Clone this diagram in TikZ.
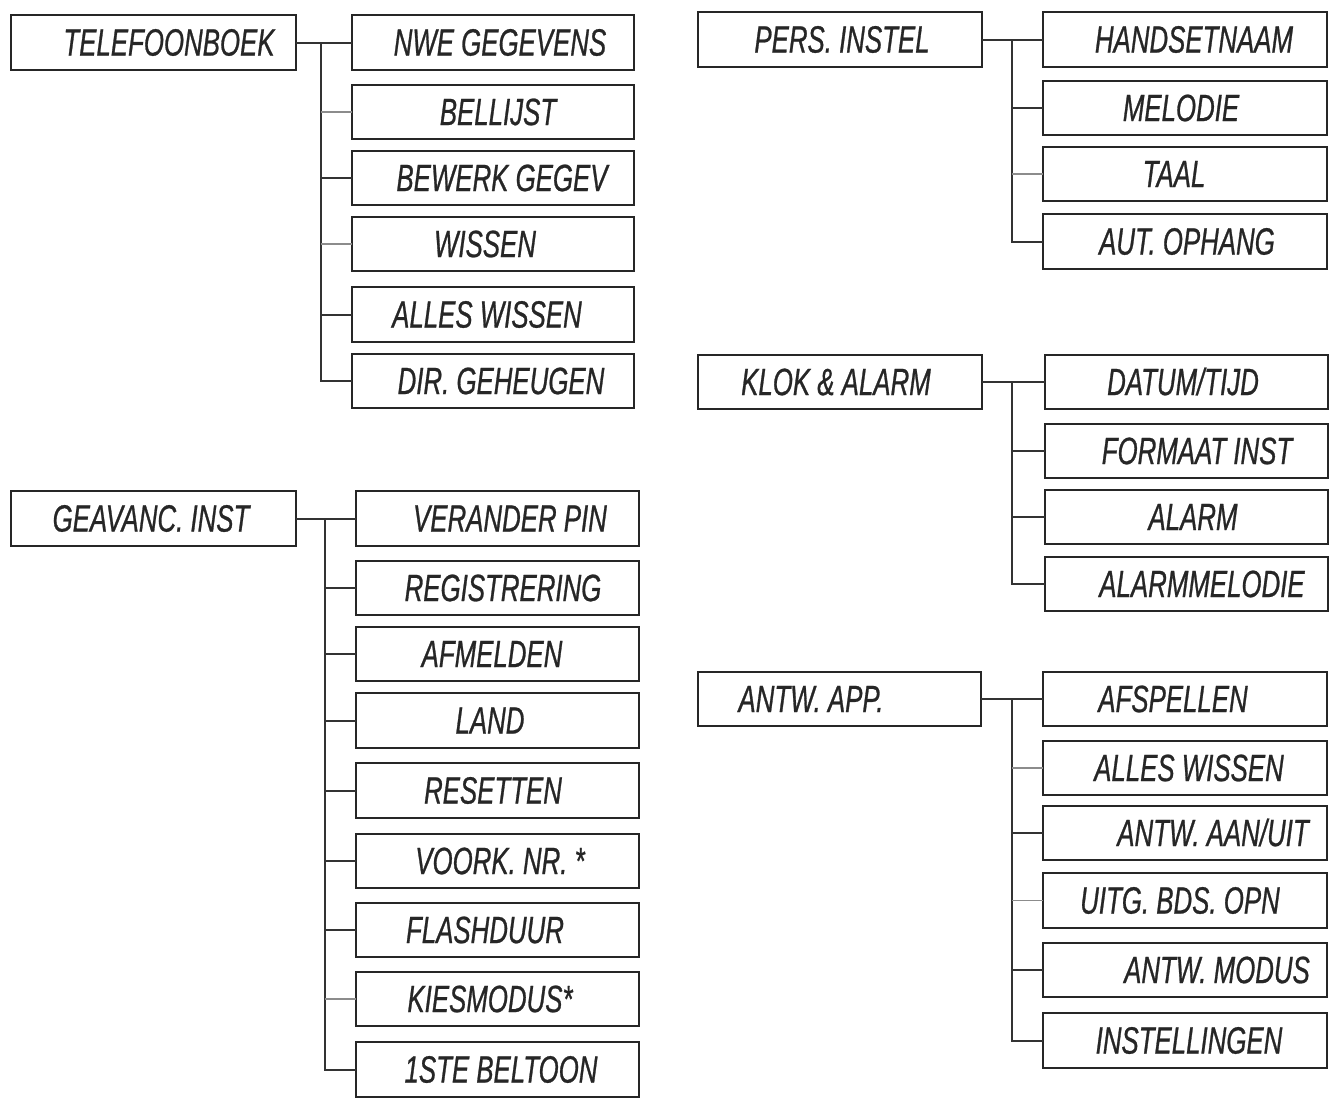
\documentclass[tikz,border=0pt]{standalone}
\usepackage{fontspec}
\newfontfamily\lcd[FakeStretch=0.68,FakeBold=0.7]{Liberation Sans}
\tikzset{
  boxst/.style={draw=black!85, line width=2.6pt, inner sep=0pt, outer sep=0pt, anchor=north west,
    font=\lcd\itshape\fontsize{38}{40}\selectfont, text=black!85},
  link/.style={draw=black!80, line width=2pt},
  light/.style={draw=black!45, line width=1.3pt},
}
\newcommand\mybox[7]{%
  \pgfmathsetmacro\bw{#4-#2}\pgfmathsetmacro\bh{#5-#3}%
  \node[boxst, minimum width=\bw pt, minimum height=\bh pt] (#1) at (#2,#3)
    {\makebox[\bw pt][l]{\hspace{\dimexpr #6pt-#2pt\relax}\makebox[0pt][c]{\smash{#7}}}\vphantom{E}};%
}
\begin{document}
\begin{tikzpicture}[x=1pt,y=-1pt]
\useasboundingbox (0,0) rectangle (1335,1101);
% ---- TELEFOONBOEK
\mybox{tel}{11}{15}{296}{70}{169}{TELEFOONBOEK}
\mybox{nwe}{352}{15}{634}{70}{500}{NWE GEGEVENS}
\mybox{bel}{352}{85}{634}{139}{498}{BELLIJST}
\mybox{bew}{352}{151}{634}{205}{502}{BEWERK GEGEV}
\mybox{wis}{352}{217}{634}{271}{485}{WISSEN}
\mybox{all}{352}{287}{634}{342}{487}{ALLES WISSEN}
\mybox{dir}{352}{354}{634}{408}{501}{DIR. GEHEUGEN}
\coordinate (tA) at (321,42.5);
\draw[link] (tel.east) -- (nwe.west);
\draw[link] (tA) |- (dir.west);
\draw[light] (tA |- bel.west) -- (bel.west);
\draw[link] (tA |- bew.west) -- (bew.west);
\draw[light] (tA |- wis.west) -- (wis.west);
\draw[link] (tA |- all.west) -- (all.west);
% ---- GEAVANC. INST
\mybox{gea}{11}{491}{296}{546}{151}{GEAVANC. INST}
\mybox{ver}{356}{491}{639}{546}{510}{VERANDER PIN}
\mybox{reg}{356}{561}{639}{615}{503}{REGISTRERING}
\mybox{afm}{356}{627}{639}{681}{492}{AFMELDEN}
\mybox{lan}{356}{693}{639}{748}{490}{LAND}
\mybox{res}{356}{763}{639}{818}{493}{RESETTEN}
\mybox{voo}{356}{834}{639}{888}{500}{VOORK. NR. *}
\mybox{fla}{356}{903}{639}{957}{485}{FLASHDUUR}
\mybox{kie}{356}{972}{639}{1026}{490}{KIESMODUS*}
\mybox{ist}{356}{1042}{639}{1097}{501}{1STE BELTOON}
\coordinate (tB) at (325,518.5);
\draw[link] (gea.east) -- (ver.west);
\draw[link] (tB) |- (ist.west);
\foreach \n in {reg,afm,lan,res,voo,fla} \draw[link] (tB |- \n.west) -- (\n.west);
\draw[light] (tB |- kie.west) -- (kie.west);
% ---- PERS. INSTEL
\mybox{per}{698}{12}{982}{67}{842}{PERS. INSTEL}
\mybox{han}{1043}{12}{1327}{67}{1194}{HANDSETNAAM}
\mybox{mel}{1043}{81}{1327}{135}{1181}{MELODIE}
\mybox{taa}{1043}{147}{1327}{201}{1174}{TAAL}
\mybox{aut}{1043}{214}{1327}{269}{1187}{AUT. OPHANG}
\coordinate (tC) at (1012,39.5);
\draw[link] (per.east) -- (han.west);
\draw[link] (tC) |- (aut.west);
\draw[link] (tC |- mel.west) -- (mel.west);
\draw[light] (tC |- taa.west) -- (taa.west);
% ---- KLOK & ALARM
\mybox{klo}{698}{355}{982}{409}{836}{KLOK \& ALARM}
\mybox{dat}{1045}{355}{1328}{409}{1183}{DATUM/TIJD}
\mybox{for}{1045}{424}{1328}{478}{1197}{FORMAAT INST}
\mybox{ala}{1045}{490}{1328}{544}{1193}{ALARM}
\mybox{alm}{1045}{557}{1328}{611}{1202}{ALARMMELODIE}
\coordinate (tD) at (1012,382);
\draw[link] (klo.east) -- (dat.west);
\draw[link] (tD) |- (alm.west);
\foreach \n in {for,ala} \draw[link] (tD |- \n.west) -- (\n.west);
% ---- ANTW. APP.
\mybox{ant}{698}{672}{981}{726}{811}{ANTW. APP.}
\mybox{afs}{1043}{672}{1327}{726}{1173}{AFSPELLEN}
\mybox{alw}{1043}{741}{1327}{795}{1189}{ALLES WISSEN}
\mybox{aan}{1043}{806}{1327}{860}{1213}{ANTW. AAN/UIT}
\mybox{uit}{1043}{873}{1327}{928}{1180}{UITG. BDS. OPN}
\mybox{mod}{1043}{943}{1327}{997}{1217}{ANTW. MODUS}
\mybox{ins}{1043}{1013}{1327}{1068}{1189}{INSTELLINGEN}
\coordinate (tE) at (1012,699);
\draw[link] (ant.east) -- (afs.west);
\draw[link] (tE) |- (ins.west);
\foreach \n in {aan,mod} \draw[link] (tE |- \n.west) -- (\n.west);
\foreach \n in {alw,uit} \draw[light] (tE |- \n.west) -- (\n.west);
\end{tikzpicture}
\end{document}
